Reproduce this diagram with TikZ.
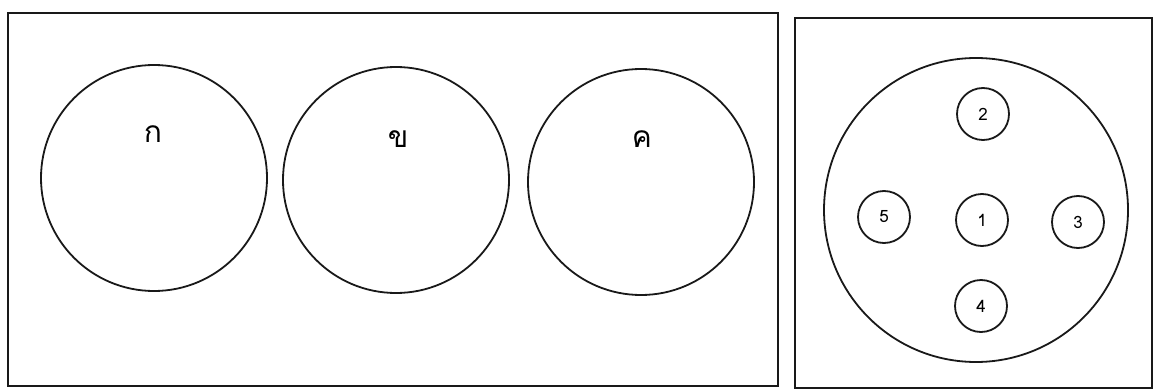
\documentclass[tikz,border=0pt]{standalone}
\usepackage{fontspec}
\newfontfamily\thaifont[Script=Thai]{Loma}
\begin{document}
\begin{tikzpicture}[x=1pt,y=-1pt,
  line/.style={draw=black!90,line width=1.8pt},
  bigc/.style={line,circle,minimum size=226pt,inner sep=0pt},
  smallc/.style={line,circle,minimum size=52pt,inner sep=0pt,font=\thaifont\fontsize{17}{17}\selectfont},
  lbl/.style={font=\thaifont\fontsize{30}{30}\selectfont,inner sep=0pt}]
\useasboundingbox (0,0) rectangle (1155,390);
\fill[white] (0,0) rectangle (1155,390);
\draw[line] (8,13) rectangle (778,386);
\draw[line] (795,18) rectangle (1152,388);
\node[bigc] (ka) at (154,178) {};
\node[bigc] (kho) at (396,180) {};
\node[bigc] (kho2) at (641,182) {};
\node[lbl] (lka) at (153,134) {ก};
\node[lbl] (lkho) at (398,139) {ข};
\node[lbl] (lkhw) at (642,139) {ค};
\node[line,circle,minimum size=304pt,inner sep=0pt] (big) at (976,210) {};
\node[smallc] (s2) at (983,114) {2};
\node[smallc] (s1) at (982,220) {1};
\node[smallc] (s5) at (884,217) {5};
\node[smallc] (s3) at (1078,222) {3};
\node[smallc] (s4) at (981,306) {4};
\end{tikzpicture}
\end{document}
